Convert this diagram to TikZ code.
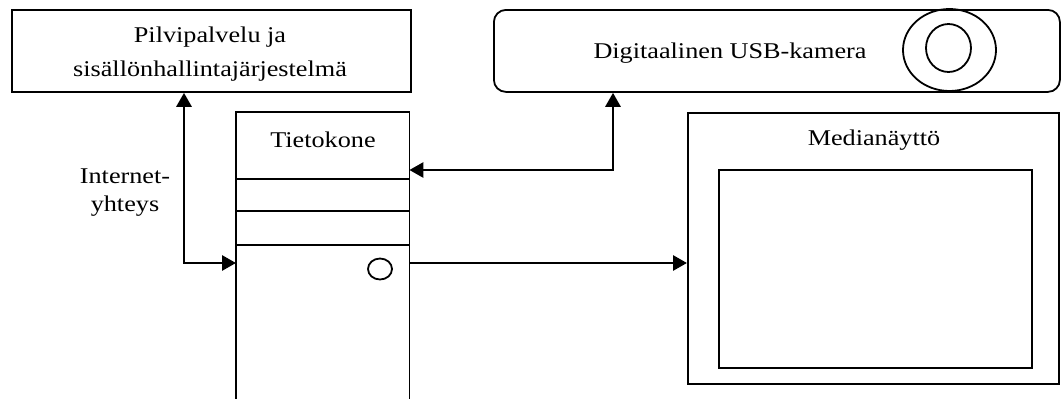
\documentclass[tikz,border=0pt]{standalone}
\usepackage{fontspec}
\setmainfont{Liberation Serif}
\usetikzlibrary{arrows.meta}
\tikzset{
  box/.style={draw, line width=1.8pt, inner sep=0pt},
  lbl/.style={inner sep=0pt, align=center, font=\fontsize{22.5}{28}\selectfont},
  conn/.style={line width=2.8pt, -{Triangle[length=14pt,width=15pt]}},
  bconn/.style={line width=2.8pt, {Triangle[length=14pt,width=15pt]}-{Triangle[length=14pt,width=15pt]}},
  ring/.style={draw, line width=1.8pt},
}
\newcommand{\hs}[1]{\scalebox{1.165}[1]{#1}}
\begin{document}
\begin{tikzpicture}[x=1pt,y=-1pt]
\useasboundingbox (0,0) rectangle (1061,399);
% cloud service
\node[box, minimum width=399pt, minimum height=82pt, anchor=north west] (cloud) at (11,9) {};
\node[lbl] (cloudtxt) at (210,54) {\hs{Pilvipalvelu ja}\\[6pt]\hs{sisällönhallintajärjestelmä}};
% camera
\node[box, rounded corners=12pt, minimum width=566pt, minimum height=82pt, anchor=north west] (cam) at (493,9) {};
\node[lbl] (camtxt) at (730,53) {\hs{Digitaalinen USB-kamera}};
\draw[ring] (949.5,50) ellipse [x radius=46.5, y radius=41];
\draw[ring] (948.5,48) ellipse [x radius=22.5, y radius=24];
% computer
\node[inner sep=0pt, minimum width=173pt, minimum height=290pt, anchor=north west] (pc) at (236,112) {};
\draw[line width=1.8pt] (pc.south west) |- (pc.north east) -- (pc.south east);
\node[lbl] (pctxt) at (323,140) {\hs{Tietokone}};
\draw[line width=1.8pt] (236,179) -- (409,179);
\draw[line width=1.8pt] (236,211) -- (409,211);
\draw[line width=1.8pt] (236,245) -- (409,245);
\draw[ring] (380,269) ellipse [x radius=12, y radius=10.5];
% media screen
\node[box, minimum width=371pt, minimum height=271pt, anchor=north west] (media) at (687,112) {};
\node[lbl] (mediatxt) at (874,140) {\hs{Medianäyttö}};
\node[box, minimum width=313pt, minimum height=198pt, anchor=north west] (screen) at (718,169) {};
% internet label
\node[lbl] (net) at (125,193) {\hs{Internet-}\\\hs{yhteys}};
% connectors
\coordinate (c1) at (184,263);
\coordinate (c2) at (613,170);
\draw[bconn] (cloud.south -| c1) -- (c1) -- (c1 -| pc.west);
\draw[bconn] (cam.south -| c2) -- (c2) -- (c2 -| pc.east);
\draw[conn] (pc.east |- 0,263) -- (media.west |- 0,263);
\end{tikzpicture}
\end{document}
